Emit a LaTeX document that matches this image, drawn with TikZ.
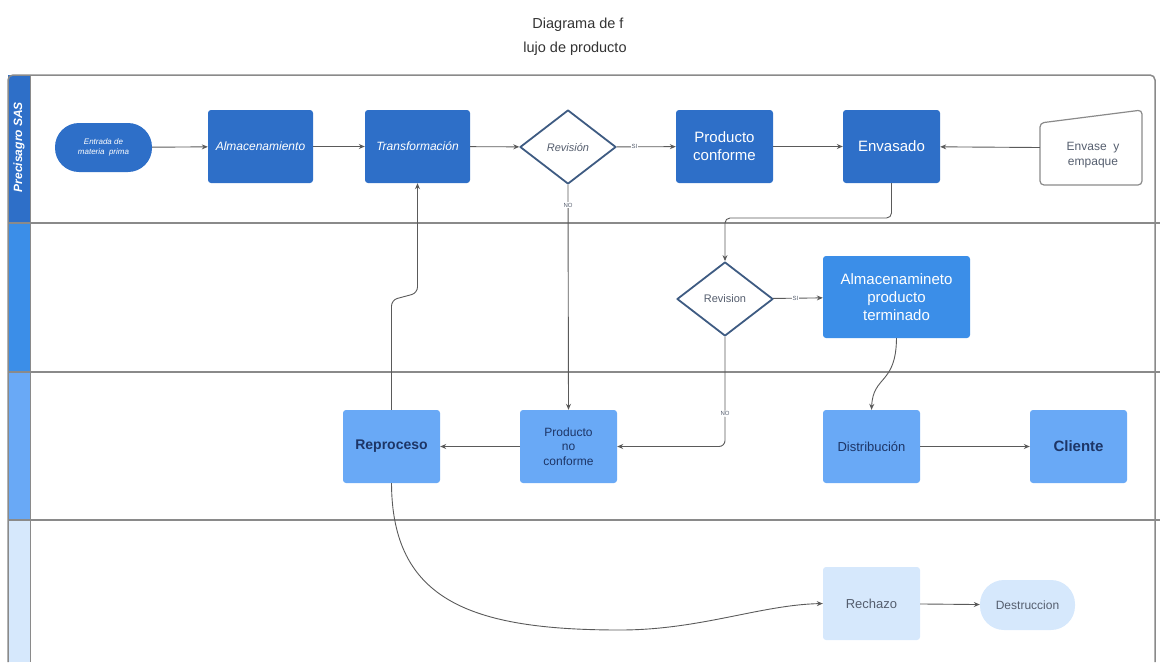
\documentclass[tikz,border=0pt]{standalone}
\usepackage{fontspec}
\setmainfont{Liberation Sans}
\usetikzlibrary{shapes.geometric,arrows.meta}
\definecolor{cA}{HTML}{2E6FC8}
\definecolor{cB}{HTML}{3B8EE8}
\definecolor{cC}{HTML}{69A9F6}
\definecolor{cD}{HTML}{D6E8FC}
\definecolor{navy}{HTML}{1D3566}
\definecolor{txtgray}{HTML}{555E6E}
\definecolor{linegray}{HTML}{5A5A5A}
\definecolor{framegray}{HTML}{8A8A8A}
\definecolor{diaedge}{HTML}{3E5B82}
\newcommand{\fs}[1]{\fontsize{#1}{\fpeval{1.2*#1}}\selectfont}
\tikzset{
  boxA/.style={rectangle, rounded corners=3pt, fill=cA, text=white, minimum width=97pt, minimum height=73pt, inner sep=1pt, align=center},
  boxB/.style={boxA, fill=cB},
  boxC/.style={boxA, fill=cC, text=navy},
  boxD/.style={boxA, fill=cD, text=txtgray},
  decis/.style={diamond, draw=diaedge, line width=1.8pt, line join=round, fill=white, text=txtgray, minimum width=96pt, minimum height=74pt, aspect=1.3, inner sep=0pt},
  conn/.style={draw=linegray, line width=0.9pt, -{Stealth[length=6pt,width=5pt]}},
  lbl/.style={fill=white, text=txtgray, inner sep=1pt, font=\fs{6}},
  lanesep/.style={draw=framegray, line width=1.3pt}
}
\begin{document}
\begin{tikzpicture}[x=1pt,y=-1pt]
\useasboundingbox (0,0) rectangle (1162,665);
% title
\node[text=black!80, font=\fs{14.5}] (t1) at (578,25) {Diagrama de f};
\node[text=black!80, font=\fs{14.5}] (t2) at (575,49) {lujo de producto};
% lane header strips
\fill[cA] (8,75) rectangle (30,223);
\fill[cB] (8,223) rectangle (30,372);
\fill[cC] (8,372) rectangle (30,520);
\fill[cD] (8,520) rectangle (30,662);
\node[rotate=90, text=white, font=\fs{12}\bfseries\itshape] (lanename) at (19,147) {Precisagro SAS};
% frame
\draw[draw=framegray, line width=1.5pt, rounded corners=5pt] (8,662) -- (8,75) -- (1155,75) -- (1155,662);
\draw[draw=framegray, line width=1pt] (30,75) -- (30,662);
\draw[lanesep] (8,223) -- (1160,223);
\draw[lanesep] (8,372) -- (1160,372);
\draw[lanesep] (8,520) -- (1160,520);
% lane 1
\node[boxA, rounded corners=24pt, minimum width=97pt, minimum height=49pt, font=\fs{8}\itshape] (entrada) at (103.5,147.5) {Entrada de\\materia\ \ prima};
\node[boxA, minimum width=105pt, font=\fs{12}\itshape] (alm) at (260.5,146.5) {Almacenamiento};
\node[boxA, minimum width=105pt, font=\fs{12}\itshape] (trans) at (417.5,146.5) {Transformación};
\node[decis, font=\fs{11}\itshape] (rev1) at (568,147) {Revisión};
\node[boxA, font=\fs{15}] (pc) at (724.5,146.5) {Producto\\conforme};
\node[boxA, font=\fs{15}] (env) at (891.5,146.5) {Envasado};
\node[minimum width=102pt, minimum height=75pt, inner sep=0pt] (emp) at (1091,147.5) {};
\draw[draw=framegray, line width=1.2pt, rounded corners=4pt] (1040,185) -- (1040,123) -- (1142,110) -- (1142,185) -- cycle;
\node[text=txtgray, font=\fs{12}, align=center] (emptxt) at (1093,155) {Envase\ \ y\\empaque};
% lane 2
\node[decis, font=\fs{11}] (rev2) at (725,299) {Revision};
\node[boxB, minimum width=147pt, minimum height=82pt, font=\fs{15}] (apt) at (896.5,297) {Almacenamineto\\producto\\terminado};
% lane 3
\node[boxC, font=\fs{14}\bfseries] (repro) at (391.5,446.5) {Reproceso};
\node[boxC, font=\fs{12}] (pnc) at (568.5,446.5) {Producto\\no\\conforme};
\node[boxC, font=\fs{13}] (dist) at (871.5,446.5) {Distribución};
\node[boxC, font=\fs{15}\bfseries] (cli) at (1078.5,446.5) {Cliente};
% lane 4
\node[boxD, font=\fs{13}] (rech) at (871.5,603.5) {Rechazo};
\node[boxD, rounded corners=24pt, minimum width=95pt, minimum height=50pt, font=\fs{12}] (dest) at (1027.5,605) {Destruccion};
% connectors
\draw[conn] (entrada) -- (alm);
\draw[conn] (alm) -- (trans);
\draw[conn] (trans) -- (rev1);
\draw[conn] (rev1) -- node[lbl, pos=0.3] {SI} (pc);
\draw[conn] (pc) -- (env);
\draw[conn] (emp.west) -- (env);
\draw[conn] (rev1.south) -- node[lbl, pos=0.09] {NO} (pnc.north);
\coordinate (e1) at (891.5,218);
\coordinate (e2) at (725,218);
\draw[conn, rounded corners=5pt] (env.south) -- (e1) -- (e2) -- (rev2.north);
\draw[conn] (rev2) -- node[lbl, pos=0.45] {SI} (apt);
\coordinate (n1) at (725,446.5);
\draw[conn, rounded corners=6pt] (rev2.south) -- node[lbl, pos=0.7] {NO} (n1) -- (pnc.east);
\draw[conn] (apt.south) .. controls (896,385) and (873,375) .. (dist.north);
\draw[conn] (pnc) -- (repro);
\draw[conn] (dist) -- (cli);
\coordinate (r1) at (391.5,300);
\coordinate (r2) at (417.5,293);
\draw[conn, rounded corners=6pt] (repro.north) -- (r1) -- (r2) -- (trans.south);
\coordinate (c1) at (620,630);
\draw[conn] (repro.south) .. controls (392,600) and (470,630) .. (c1) .. controls (700,630) and (760,605) .. (rech.west);
\draw[conn] (rech) -- (dest);
\end{tikzpicture}
\end{document}
